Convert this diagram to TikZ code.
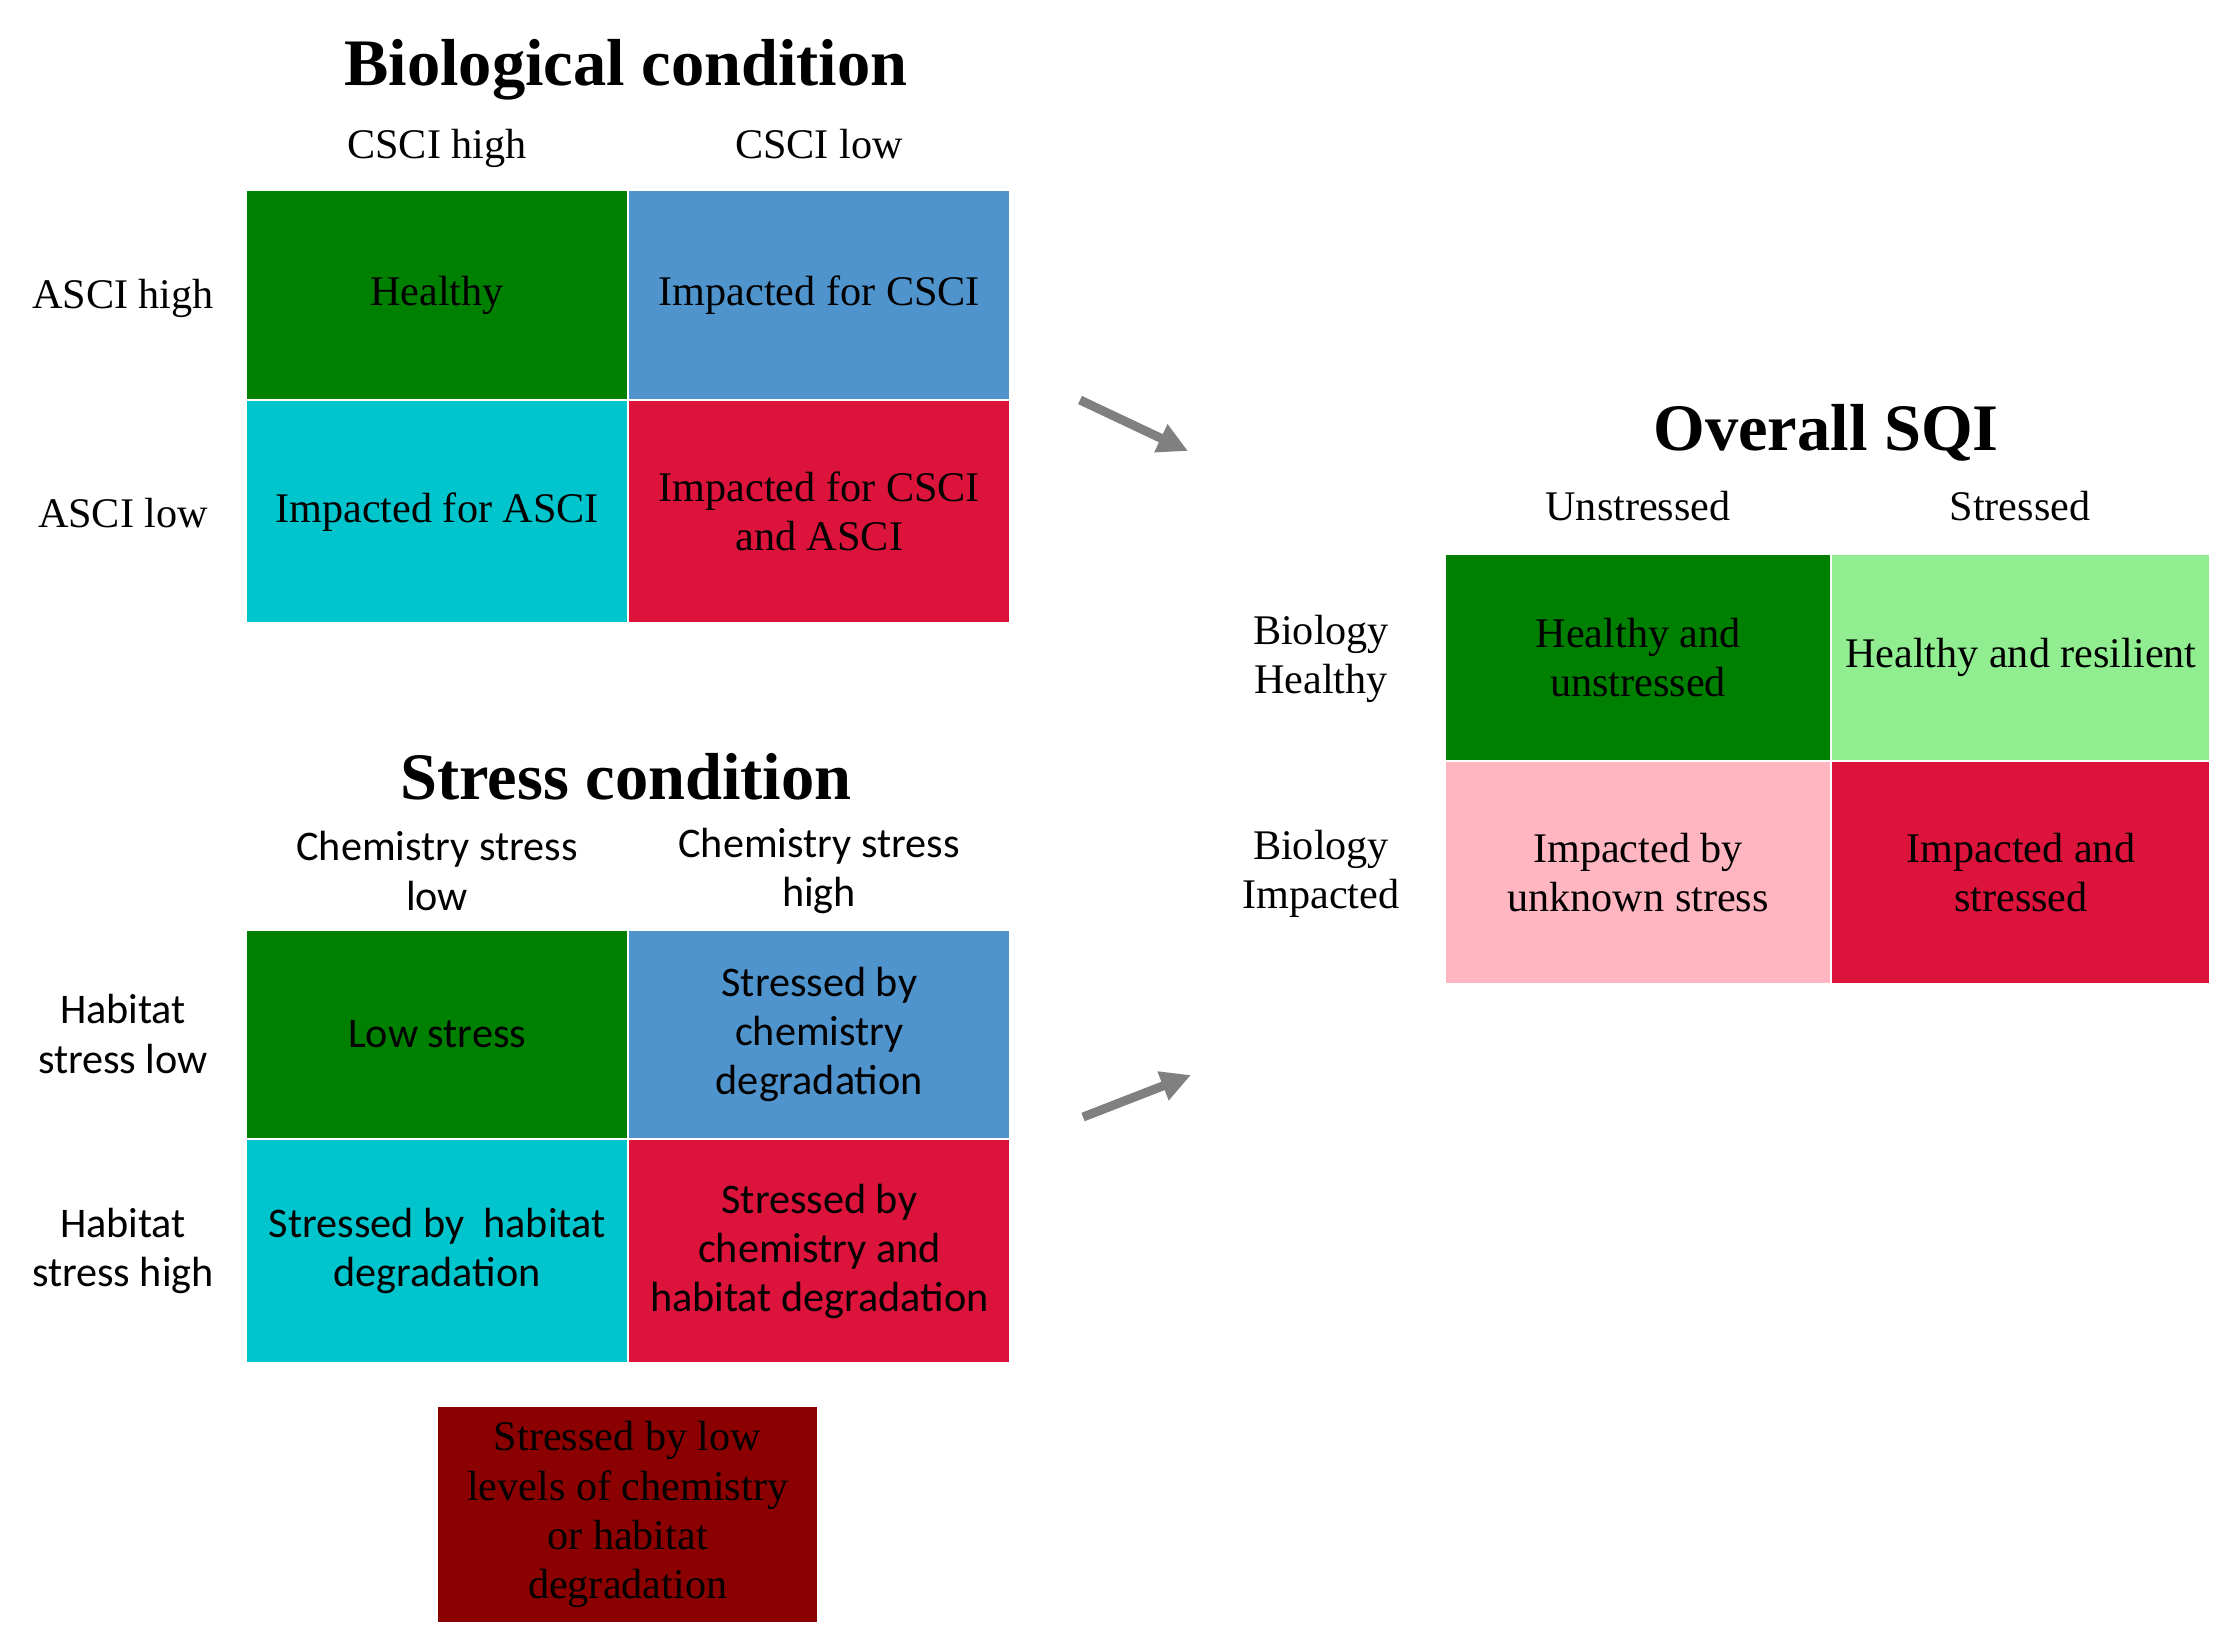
\documentclass[tikz,border=0pt]{standalone}
\usepackage{fontspec}
\setmainfont{Liberation Serif}
\newfontfamily\calibri{Carlito}
\usetikzlibrary{arrows.meta}

\definecolor{okgreen}{HTML}{008000}
\definecolor{steel}{HTML}{4F94CD}
\definecolor{aqua}{HTML}{00C5CD}
\definecolor{crim}{HTML}{DC143C}
\definecolor{palegreen}{HTML}{90EE90}
\definecolor{lightpink}{HTML}{FFB6C1}
\definecolor{deepred}{HTML}{8B0000}

\begin{document}
\begin{tikzpicture}[x = 0.01cm, y = -0.01cm, > = {Triangle[length = 0.3cm, width = 0.29cm]},
	font = \fontsize{12}{14}\selectfont,
	cell/.style = {draw = white, line width = 0.6pt, inner sep = 0pt, outer sep = 0pt,
		anchor = north west, align = center, minimum width = 3.82cm},
	heading/.style = {anchor = base, font = \fontsize{18.9}{22}\selectfont\bfseries},
	colhead/.style = {anchor = base},
	rowhead/.style = {align = center}]

	% Definitions

	\def\rowA{2.10cm}		% height of the top row of the left grids
	\def\rowB{2.23cm}		% height of the bottom row of the left grids

	\useasboundingbox (0, 0) rectangle (2216, 1641);

	% Biological condition

	\node [heading] (bio-title) at (626, 85) {Biological condition};
	\node [colhead] (bio-c1) at (437, 158) {CSCI high};
	\node [colhead] (bio-c2) at (819, 158) {CSCI low};
	\node [colhead] (bio-r1) at (123, 308) {ASCI high};
	\node [colhead] (bio-r2) at (123, 527) {ASCI low};

	\node [cell, fill = okgreen, minimum height = \rowA] (bio-11) at (246, 190) {Healthy};
	\node [cell, fill = steel, minimum height = \rowA] (bio-12) at (bio-11.north east) {Impacted for CSCI};
	\node [cell, fill = aqua, minimum height = \rowB] (bio-21) at (bio-11.south west) {Impacted for ASCI};
	\node [cell, fill = crim, minimum height = \rowB] (bio-22) at (bio-21.north east) {Impacted for CSCI\\and ASCI};

	% Stress condition

	\node [heading] (str-title) at (626, 799) {Stress condition};

	\begin{scope}[font = \calibri\fontsize{12}{14}\selectfont]

		\node [rowhead] (str-c1) at (437, 871) {Chemistry stress\\low};
		\node [rowhead] (str-c2) at (819, 871) {Chemistry stress\\high};
		\node [rowhead] (str-r1) at (123, 1034) {Habitat\\stress low};
		\node [rowhead] (str-r2) at (123, 1251) {Habitat\\stress high};

		\node [cell, fill = okgreen, minimum height = 2.09cm] (str-11) at (246, 930) {Low stress};
		\node [cell, fill = steel, minimum height = 2.09cm] (str-12) at (str-11.north east) {Stressed by\\chemistry\\degradation};
		\node [cell, fill = aqua, minimum height = 2.24cm] (str-21) at (str-11.south west) {Stressed by\ \ habitat\\degradation};
		\node [cell, fill = crim, minimum height = 2.24cm] (str-22) at (str-21.north east) {Stressed by\\chemistry and\\habitat degradation};

	\end{scope}

	\node [cell, fill = deepred, minimum width = 3.81cm, minimum height = 2.17cm] (str-low) at (437, 1406)
		{Stressed by low\\levels of chemistry\\or habitat\\degradation};

	% Overall SQI

	\node [heading] (sqi-title) at (1826, 450) {Overall SQI};
	\node [colhead] (sqi-c1) at (1638, 520) {Unstressed};
	\node [colhead] (sqi-c2) at (2020, 520) {Stressed};
	\node [rowhead] (sqi-r1) at (1321, 659) {Biology\\Healthy};
	\node [rowhead] (sqi-r2) at (1321, 874) {Biology\\Impacted};

	\node [cell, fill = okgreen, minimum width = 3.86cm, minimum height = 2.07cm] (sqi-11) at (1445, 554) {Healthy and\\unstressed};
	\node [cell, fill = palegreen, minimum width = 3.79cm, minimum height = 2.07cm] (sqi-12) at (sqi-11.north east) {Healthy and resilient};
	\node [cell, fill = lightpink, minimum width = 3.86cm, minimum height = 2.23cm] (sqi-21) at (sqi-11.south west) {Impacted by\\unknown stress};
	\node [cell, fill = crim, minimum width = 3.79cm, minimum height = 2.23cm] (sqi-22) at (sqi-21.north east) {Impacted and\\stressed};

	% Arrows into the overall grid

	\coordinate (bio-out) at (1080, 400);
	\coordinate (sqi-in1) at (1188, 451);
	\coordinate (str-out) at (1083, 1117);
	\coordinate (sqi-in2) at (1191, 1075);

	\begin{scope}[->, gray, line width = 0.09cm]

		\draw (bio-out) -- (sqi-in1);
		\draw (str-out) -- (sqi-in2);

	\end{scope}

\end{tikzpicture}
\end{document}
